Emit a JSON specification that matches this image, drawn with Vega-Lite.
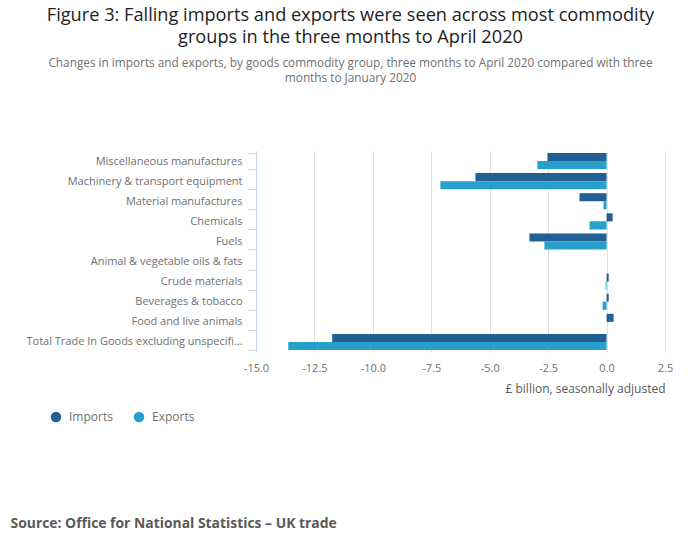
{
  "$schema": "https://vega.github.io/schema/vega-lite/v6.json",
  "autosize": {"type": "none"},
  "width": 409,
  "height": 201,
  "padding": {"left": 256, "top": 151, "right": 35, "bottom": 197},
  "background": "white",
  "config": {
    "font": "Open Sans",
    "view": {"stroke": null}
  },
  "title": {
    "text": ["Figure 3: Falling imports and exports were seen across most commodity", "groups in the three months to April 2020"],
    "subtitle": ["Changes in imports and exports, by goods commodity group, three months to April 2020 compared with three", "months to January 2020"],
    "anchor": "middle",
    "frame": "group",
    "dx": -110,
    "offset": 59,
    "fontSize": 18.2,
    "fontWeight": "normal",
    "color": "#222222",
    "lineHeight": 22,
    "subtitleFontSize": 11.8,
    "subtitleColor": "#707070",
    "subtitleLineHeight": 15,
    "subtitlePadding": 11
  },
  "data": {
    "values": [
      {"group": "Miscellaneous manufactures", "flow": "Imports", "change": -2.53},
      {"group": "Miscellaneous manufactures", "flow": "Exports", "change": -2.96},
      {"group": "Machinery & transport equipment", "flow": "Imports", "change": -5.61},
      {"group": "Machinery & transport equipment", "flow": "Exports", "change": -7.11},
      {"group": "Material manufactures", "flow": "Imports", "change": -1.16},
      {"group": "Material manufactures", "flow": "Exports", "change": -0.13},
      {"group": "Chemicals", "flow": "Imports", "change": 0.26},
      {"group": "Chemicals", "flow": "Exports", "change": -0.73},
      {"group": "Fuels", "flow": "Imports", "change": -3.3},
      {"group": "Fuels", "flow": "Exports", "change": -2.66},
      {"group": "Animal & vegetable oils & fats", "flow": "Imports", "change": 0.0},
      {"group": "Animal & vegetable oils & fats", "flow": "Exports", "change": 0.0},
      {"group": "Crude materials", "flow": "Imports", "change": 0.09},
      {"group": "Crude materials", "flow": "Exports", "change": -0.04},
      {"group": "Beverages & tobacco", "flow": "Imports", "change": 0.09},
      {"group": "Beverages & tobacco", "flow": "Exports", "change": -0.17},
      {"group": "Food and live animals", "flow": "Imports", "change": 0.3},
      {"group": "Food and live animals", "flow": "Exports", "change": 0.0},
      {"group": "Total Trade In Goods excluding unspecified goods", "flow": "Imports", "change": -11.74},
      {"group": "Total Trade In Goods excluding unspecified goods", "flow": "Exports", "change": -13.62}
    ]
  },
  "mark": {"type": "bar"},
  "encoding": {
    "y": {
      "field": "group",
      "type": "nominal",
      "sort": null,
      "scale": {"paddingInner": 0.2, "paddingOuter": 0.1},
      "axis": {
        "title": "Source: Office for National Statistics – UK trade",
        "titleAngle": 0,
        "titleX": -246,
        "titleY": 372,
        "titleAlign": "left",
        "titleBaseline": "middle",
        "titleFontSize": 13.9,
        "titleFontWeight": "bold",
        "titleColor": "#595959",
        "labelFontSize": 11,
        "labelColor": "#707070",
        "labelLimit": 222,
        "labelPadding": 6,
        "tickBand": "extent",
        "tickSize": 8,
        "tickColor": "#c8d2e6",
        "domainColor": "#c8d2e6",
        "grid": false
      }
    },
    "yOffset": {
      "field": "flow",
      "type": "nominal",
      "sort": ["Imports", "Exports"],
      "scale": {"paddingInner": 0, "paddingOuter": 0}
    },
    "x": {
      "field": "change",
      "type": "quantitative",
      "scale": {"domain": [-15, 2.5], "nice": false, "zero": false},
      "axis": {
        "values": [-15, -12.5, -10, -7.5, -5, -2.5, 0, 2.5],
        "labelExpr": "replace(format(datum.value, '.1f'), '−', '-')",
        "labelFlush": false,
        "title": "£ billion, seasonally adjusted",
        "titleAnchor": "end",
        "titleAlign": "right",
        "titleFontSize": 12,
        "titleFontWeight": "normal",
        "titleColor": "#595959",
        "titlePadding": 10,
        "labelFontSize": 11,
        "labelColor": "#707070",
        "labelPadding": 10,
        "domain": false,
        "ticks": false,
        "grid": true,
        "gridColor": "#e0e0e0"
      }
    },
    "color": {
      "field": "flow",
      "type": "nominal",
      "sort": ["Imports", "Exports"],
      "scale": {"domain": ["Imports", "Exports"], "range": ["#206095", "#27a0cc"]},
      "legend": {
        "title": null,
        "orient": "none",
        "direction": "horizontal",
        "legendX": -206,
        "legendY": 260,
        "symbolType": "circle",
        "symbolSize": 110,
        "symbolOpacity": 1,
        "labelFontSize": 12,
        "labelColor": "#707070",
        "labelOffset": 7,
        "columnPadding": 20
      }
    }
  }
}
